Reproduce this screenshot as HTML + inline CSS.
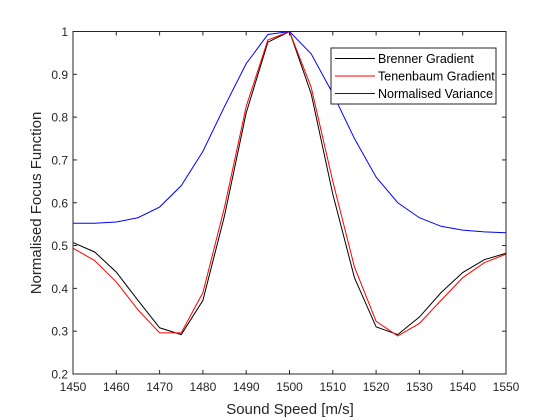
<!DOCTYPE html>
<html><head><meta charset="utf-8"><style>
body{margin:0;background:#fff;}
svg{display:block;font-family:"Liberation Sans",Arial,sans-serif;}
</style></head><body>
<svg id="chart" width="560" height="420" viewBox="0 0 560 420" xmlns="http://www.w3.org/2000/svg">
<rect width="560" height="420" fill="#fff"/>
<g id="series"></g>
<rect x="73" y="31.5" width="433" height="342.5" fill="none" stroke="#262626" stroke-width="1"/>
<g id="ticks"></g>
<text x="290" y="414" text-anchor="middle" font-size="15" fill="#262626">Sound Speed [m/s]</text>
<text transform="translate(41,203) rotate(-90)" text-anchor="middle" font-size="15" fill="#262626">Normalised Focus Function</text>
<g>
<rect x="331" y="48" width="165" height="56" fill="#fff" stroke="#262626" stroke-width="1"/>
<g><line x1="335" x2="375" y1="58.5" y2="58.5" stroke="#000"/><text x="378" y="63" font-size="12.5" fill="#000">Brenner Gradient</text></g>
<g><line x1="335" x2="375" y1="76" y2="76" stroke="#f00"/><text x="378" y="80.5" font-size="12.5" fill="#000">Tenenbaum Gradient</text></g>
<g><line x1="335" x2="375" y1="93.5" y2="93.5" stroke="#00f"/><text x="378" y="98" font-size="12.5" fill="#000">Normalised Variance</text></g>
</g>
</svg>
<script>
const speeds = [1450,1455,1460,1465,1470,1475,1480,1485,1490,1495,1500,1505,1510,1515,1520,1525,1530,1535,1540,1545,1550];
const brenner = [0.507,0.485,0.438,0.372,0.308,0.292,0.372,0.57,0.81,0.975,1.0,0.855,0.62,0.425,0.31,0.292,0.333,0.39,0.437,0.467,0.482];
const tenenbaum = [0.494,0.465,0.415,0.35,0.296,0.296,0.39,0.59,0.825,0.98,1.0,0.87,0.65,0.45,0.323,0.289,0.318,0.372,0.425,0.46,0.48];
const variance = [0.552,0.552,0.555,0.565,0.59,0.64,0.72,0.825,0.925,0.993,1.0,0.948,0.855,0.75,0.66,0.6,0.565,0.545,0.536,0.532,0.53];
const xTicks = [1450,1460,1470,1480,1490,1500,1510,1520,1530,1540,1550];
const yTicks = [0.2,0.3,0.4,0.5,0.6,0.7,0.8,0.9,1];
const yTickLabels = ["0.2","0.3","0.4","0.5","0.6","0.7","0.8","0.9","1"];

const L=73,R=506,T=31.5,B=374;
const xs=v=>L+(v-1450)/(1550-1450)*(R-L);
const ys=v=>B-(v-0.2)/(1-0.2)*(B-T);
const NS="http://www.w3.org/2000/svg";
const tk=document.getElementById('ticks');
function mk(tag,attrs,parent){const e=document.createElementNS(NS,tag);for(const k in attrs)e.setAttribute(k,attrs[k]);parent.appendChild(e);return e;}
xTicks.forEach(v=>{
  const x=xs(v);
  mk('line',{x1:x,x2:x,y1:B,y2:B-4,stroke:'#262626'},tk);
  mk('line',{x1:x,x2:x,y1:T,y2:T+4,stroke:'#262626'},tk);
  const t=mk('text',{x:x,y:B+17,'text-anchor':'middle','font-size':'12',fill:'#262626'},tk);
  t.textContent=v;
  
  
});
yTicks.forEach((v,i)=>{
  const y=ys(v);
  mk('line',{x1:L,x2:L+4,y1:y,y2:y,stroke:'#262626'},tk);
  mk('line',{x1:R,x2:R-4,y1:y,y2:y,stroke:'#262626'},tk);
  const t=mk('text',{x:L-5,y:y+4.5,'text-anchor':'end','font-size':'12',fill:'#262626'},tk);
  t.textContent=yTickLabels[i];
  
  
});
const sg=document.getElementById('series');
[[brenner,'#000','brenner-gradient-line'],[tenenbaum,'#f00','tenenbaum-gradient-line'],[variance,'#00f','normalised-variance-line']].forEach(([d,c,n])=>{
  const p=mk('polyline',{points:d.map((v,i)=>xs(speeds[i])+','+ys(v)).join(' '),fill:'none',stroke:c,'stroke-width':'1'},sg);
  
  
});
</script>
</body></html>
